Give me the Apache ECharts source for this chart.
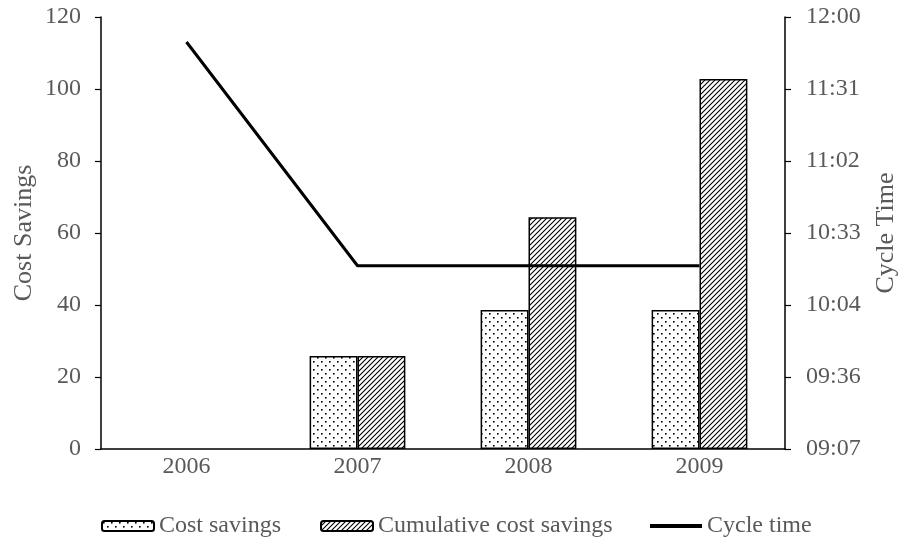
<!DOCTYPE html>
<html><head><meta charset="utf-8">
<script src="https://cdn.jsdelivr.net/npm/echarts@6/dist/echarts.min.js"></script>
<style>html,body{margin:0;padding:0;background:#fff}#c{width:899px;height:543px}</style>
</head><body><div id="c"></div>
<script>
const categories = ['2006', '2007', '2008', '2009'];
const costSavings = [null, 25.8, 38.6, 38.6];
const cumulativeSavings = [null, 25.8, 64.4, 102.8];
// cycle time in minutes since midnight
const cycleTime = [710, 620.5, 620.5, 620.5];

function dotPattern() {
  const c = document.createElement('canvas');
  c.width = 8; c.height = 8;
  const g = c.getContext('2d');
  g.fillStyle = '#fff'; g.fillRect(0, 0, 8, 8);
  g.fillStyle = '#000';
  g.fillRect(1, 1, 1.6, 1.6);
  g.fillRect(5, 5, 1.6, 1.6);
  return c;
}
function hatchPattern() {
  const c = document.createElement('canvas');
  c.width = 5; c.height = 5;
  const g = c.getContext('2d');
  g.fillStyle = '#fff'; g.fillRect(0, 0, 5, 5);
  g.strokeStyle = '#000'; g.lineWidth = 1.1;
  g.beginPath();
  g.moveTo(-1, 6); g.lineTo(6, -1);
  g.moveTo(-1, 1); g.lineTo(1, -1);
  g.moveTo(4, 6); g.lineTo(6, 4);
  g.stroke();
  return c;
}
const font = '"Liberation Serif", "Times New Roman", serif';
const grey = '#595959';
function fmtTime(v) {
  const m = Math.floor(v + 1e-6);
  const h = Math.floor(m / 60), mm = m % 60;
  return String(h).padStart(2, '0') + ':' + String(mm).padStart(2, '0');
}
const legendText = { fontFamily: font, fontSize: 24, color: grey };
const chart = echarts.init(document.getElementById('c'));
chart.setOption({
  animation: false,
  textStyle: { fontFamily: font },
  grid: { left: 101, right: 114, top: 17, bottom: 94, containLabel: false, outerBoundsMode: 'none' },
  legend: [
    { left: 101, top: 514, padding: 0, itemWidth: 52, itemHeight: 10, textStyle: legendText, data: ['Cost savings'] },
    { left: 320, top: 514, padding: 0, itemWidth: 52, itemHeight: 10, textStyle: legendText, data: ['Cumulative cost savings'] },
    { left: 650, top: 514, padding: 0, itemWidth: 52, itemHeight: 4, textStyle: legendText,
      data: [{ name: 'Cycle time', icon: 'rect' }] }
  ],
  xAxis: {
    type: 'category', data: categories,
    axisLine: { lineStyle: { color: '#000', width: 1.5 } },
    axisTick: { show: false },
    axisLabel: { fontFamily: font, fontSize: 24, color: grey, margin: 6 }
  },
  yAxis: [
    {
      type: 'value', min: 0, max: 120, interval: 20,
      name: 'Cost Savings', nameLocation: 'middle', nameGap: 64, nameMoveOverlap: false,
      nameTextStyle: { fontFamily: font, fontSize: 26, color: grey },
      axisLine: { show: true, lineStyle: { color: '#000', width: 1.5 } },
      axisTick: { show: true, length: 6, lineStyle: { color: '#000', width: 1.2 } },
      axisLabel: { fontFamily: font, fontSize: 24, color: grey, margin: 20 },
      splitLine: { show: false }
    },
    {
      type: 'value', min: 547.2, max: 720, interval: 28.8,
      name: 'Cycle Time', nameLocation: 'middle', nameGap: 88, nameRotate: 90, nameMoveOverlap: false,
      nameTextStyle: { fontFamily: font, fontSize: 26, color: grey },
      axisLine: { show: true, lineStyle: { color: '#000', width: 1.5 } },
      axisTick: { show: true, length: 6, lineStyle: { color: '#000', width: 1.2 } },
      axisLabel: { fontFamily: font, fontSize: 24, color: grey, margin: 21, formatter: fmtTime },
      splitLine: { show: false }
    }
  ],
  series: [
    {
      name: 'Cost savings', type: 'bar', data: costSavings,
      barGap: '0%', barCategoryGap: '44%',
      itemStyle: { color: { image: dotPattern(), repeat: 'repeat' }, borderColor: '#000', borderWidth: 1.5 }
    },
    {
      name: 'Cumulative cost savings', type: 'bar', data: cumulativeSavings,
      itemStyle: { color: { image: hatchPattern(), repeat: 'repeat' }, borderColor: '#000', borderWidth: 1.5 }
    },
    {
      name: 'Cycle time', type: 'line', yAxisIndex: 1, data: cycleTime,
      symbol: 'none', lineStyle: { color: '#000', width: 3 }, itemStyle: { color: '#000' },
      z: 5
    }
  ]
});
</script></body></html>
